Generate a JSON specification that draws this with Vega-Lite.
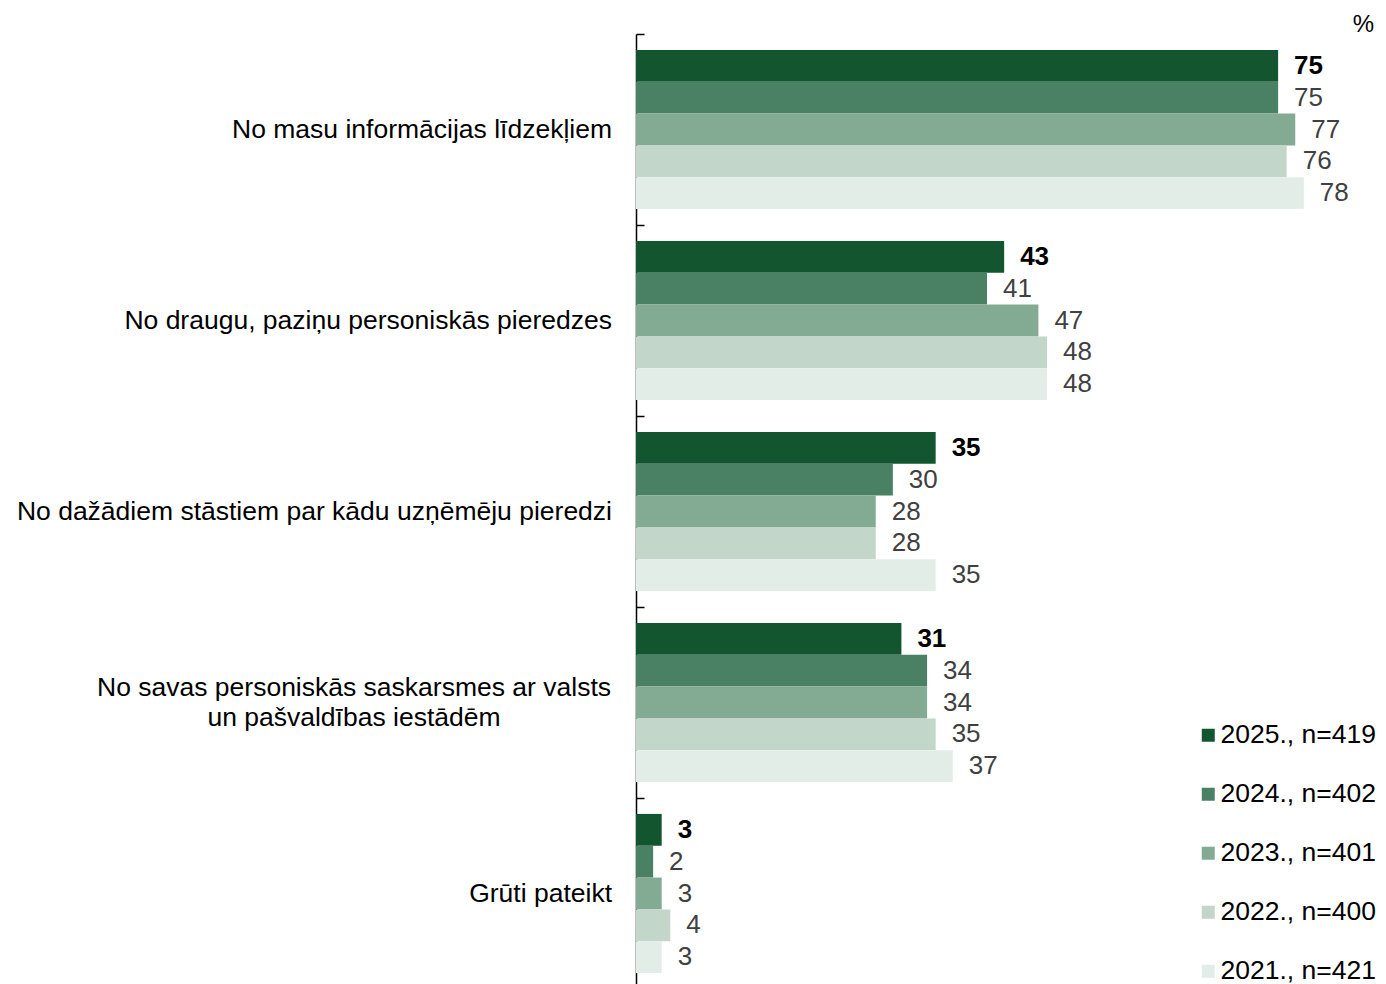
{
  "$schema": "https://vega.github.io/schema/vega-lite/v6.json",
  "width": 750,
  "height": 955,
  "autosize": {"type": "none"},
  "padding": {"left": 636, "top": 34, "right": 0, "bottom": 0},
  "background": "white",
  "config": {"view": {"stroke": null}, "font": "Liberation Sans"},
  "title": {"text": "%", "anchor": "end", "fontSize": 24, "fontWeight": "normal", "color": "black", "dx": -12, "offset": -4, "font": "Liberation Sans"},
  "datasets": {
    "vals": [
      {"cat": "c1", "year": "2025., n=419", "value": 75},
      {"cat": "c1", "year": "2024., n=402", "value": 75},
      {"cat": "c1", "year": "2023., n=401", "value": 77},
      {"cat": "c1", "year": "2022., n=400", "value": 76},
      {"cat": "c1", "year": "2021., n=421", "value": 78},
      {"cat": "c2", "year": "2025., n=419", "value": 43},
      {"cat": "c2", "year": "2024., n=402", "value": 41},
      {"cat": "c2", "year": "2023., n=401", "value": 47},
      {"cat": "c2", "year": "2022., n=400", "value": 48},
      {"cat": "c2", "year": "2021., n=421", "value": 48},
      {"cat": "c3", "year": "2025., n=419", "value": 35},
      {"cat": "c3", "year": "2024., n=402", "value": 30},
      {"cat": "c3", "year": "2023., n=401", "value": 28},
      {"cat": "c3", "year": "2022., n=400", "value": 28},
      {"cat": "c3", "year": "2021., n=421", "value": 35},
      {"cat": "c4", "year": "2025., n=419", "value": 31},
      {"cat": "c4", "year": "2024., n=402", "value": 34},
      {"cat": "c4", "year": "2023., n=401", "value": 34},
      {"cat": "c4", "year": "2022., n=400", "value": 35},
      {"cat": "c4", "year": "2021., n=421", "value": 37},
      {"cat": "c5", "year": "2025., n=419", "value": 3},
      {"cat": "c5", "year": "2024., n=402", "value": 2},
      {"cat": "c5", "year": "2023., n=401", "value": 3},
      {"cat": "c5", "year": "2022., n=400", "value": 4},
      {"cat": "c5", "year": "2021., n=421", "value": 3}
    ],
    "cats": [
      {"cat": "c1", "label": "No masu informācijas līdzekļiem", "multi": false},
      {"cat": "c2", "label": "No draugu, paziņu personiskās pieredzes", "multi": false},
      {"cat": "c3", "label": "No dažādiem stāstiem par kādu uzņēmēju pieredzi", "multi": false},
      {"cat": "c4", "label": ["No savas personiskās saskarsmes ar valsts", "un pašvaldības iestādēm"], "multi": true},
      {"cat": "c5", "label": "Grūti pateikt", "multi": false}
    ]
  },
  "layer": [
    {
      "data": {"name": "vals"},
      "mark": {"type": "bar"},
      "encoding": {
        "y": {"field": "cat", "type": "nominal", "sort": null,
              "scale": {"domain": ["c1", "c2", "c3", "c4", "c5"], "paddingInner": 0, "paddingOuter": 0},
              "axis": {"labels": false, "title": null, "bandPosition": 0, "tickSize": -8, "tickColor": "black", "domainColor": "black", "domainWidth": 1.5, "tickWidth": 1.5}},
        "yOffset": {"field": "year", "type": "nominal",
              "scale": {"domain": ["2025., n=419", "2024., n=402", "2023., n=401", "2022., n=400", "2021., n=421"], "paddingInner": 0, "paddingOuter": 0.5}},
        "x": {"field": "value", "type": "quantitative", "scale": {"domain": [0, 87.6], "nice": false, "zero": true}, "axis": null},
        "color": {"field": "year", "type": "nominal",
              "scale": {"domain": ["2025., n=419", "2024., n=402", "2023., n=401", "2022., n=400", "2021., n=421"],
                        "range": ["#12552F", "#4A8063", "#83AB93", "#C2D6CA", "#E3EDE8"]},
              "legend": {"orient": "none", "legendX": 559, "legendY": 688, "title": null, "symbolType": "square", "symbolSize": 169, "symbolStrokeWidth": 0, "labelFontSize": 26.5, "labelFont": "Liberation Sans", "labelColor": "black", "rowPadding": 32, "labelOffset": -1}}
      }
    },
    {
      "data": {"name": "vals"},
      "transform": [{"filter": "datum.year == '2025., n=419'"}],
      "mark": {"type": "text", "align": "left", "baseline": "middle", "dx": 16, "fontSize": 26, "fontWeight": "bold", "color": "black"},
      "encoding": {
        "y": {"field": "cat", "type": "nominal", "sort": null},
        "yOffset": {"field": "year", "type": "nominal"},
        "x": {"field": "value", "type": "quantitative"},
        "text": {"field": "value", "type": "quantitative"}
      }
    },
    {
      "data": {"name": "vals"},
      "transform": [{"filter": "datum.year != '2025., n=419'"}],
      "mark": {"type": "text", "align": "left", "baseline": "middle", "dx": 16, "fontSize": 26, "color": "#404040"},
      "encoding": {
        "y": {"field": "cat", "type": "nominal", "sort": null},
        "yOffset": {"field": "year", "type": "nominal"},
        "x": {"field": "value", "type": "quantitative"},
        "text": {"field": "value", "type": "quantitative"}
      }
    },
    {
      "data": {"name": "cats"},
      "transform": [{"filter": "!datum.multi"}],
      "mark": {"type": "text", "align": "right", "baseline": "middle", "dx": -24, "fontSize": 26.5, "color": "black"},
      "encoding": {
        "y": {"field": "cat", "type": "nominal", "sort": null},
        "x": {"datum": 0},
        "text": {"field": "label"}
      }
    },
    {
      "data": {"name": "cats"},
      "transform": [{"filter": "datum.multi"}],
      "mark": {"type": "text", "align": "center", "baseline": "middle", "dx": -282, "dy": -15, "fontSize": 26.5, "lineHeight": 30, "color": "black"},
      "encoding": {
        "y": {"field": "cat", "type": "nominal", "sort": null},
        "x": {"datum": 0},
        "text": {"field": "label"}
      }
    }
  ]
}
